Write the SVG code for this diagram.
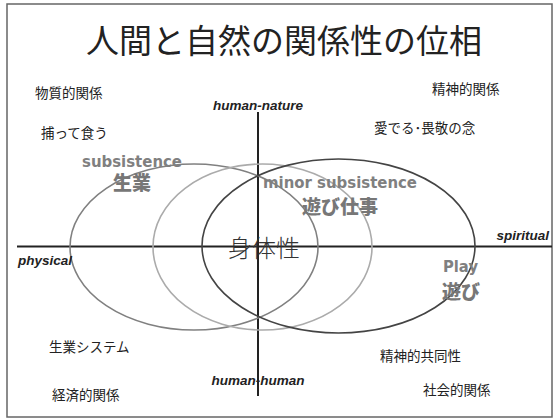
<svg xmlns="http://www.w3.org/2000/svg" width="558" height="420" viewBox="0 0 558 420">
<style>
.jp{font-family:"Noto Sans CJK JP","Noto Sans CJK SC",sans-serif;font-size:13.5px;fill:#222}
.ax{font-family:"Liberation Sans",Arial,sans-serif;font-size:13.5px;font-weight:bold;font-style:italic;fill:#222}
.en{font-family:"DejaVu Sans","Liberation Sans",sans-serif;font-size:15px;font-weight:bold;fill:#808080}
.big{font-family:"Noto Sans CJK JP","Noto Sans CJK SC",sans-serif;font-size:19px;font-weight:900;fill:#777}
.axis{stroke:#222;stroke-width:2;fill:none}
.el{fill:none;stroke-width:1.6}
</style>
<rect x="7" y="4" width="545" height="413" fill="#fff" stroke="#666" stroke-width="1.5"/>
<g id="title"><text x="284" y="53" text-anchor="middle" style="font-family:'Noto Sans CJK JP','Noto Sans CJK SC',sans-serif;font-size:33px;fill:#222">人間と自然の関係性の位相</text></g>
<g id="connectors">
<line class="axis" x1="17" y1="246.5" x2="552" y2="246.5"/>
<line class="axis" x1="258" y1="112" x2="258" y2="396"/>
</g>
<g id="subsistence">
<ellipse class="el" cx="194" cy="247" rx="124" ry="83" stroke="#808080"/>
<text class="en" x="82" y="166.5" textLength="100" lengthAdjust="spacingAndGlyphs">subsistence</text>
<text class="big" x="113" y="190">生業</text>
</g>
<g id="body">
<ellipse class="el" cx="262.5" cy="247" rx="109.5" ry="83" stroke="#ababab"/>
</g>
<g id="play">
<ellipse class="el" cx="338.5" cy="246" rx="136.5" ry="87" stroke="#444"/>
<text class="en" x="443" y="272" textLength="35" lengthAdjust="spacingAndGlyphs">Play</text>
<text class="big" x="442" y="299">遊び</text>
</g>
<g id="minor">
<text class="en" x="263" y="187.5" textLength="154" lengthAdjust="spacingAndGlyphs">minor subsistence</text>
<text class="big" x="302" y="214">遊び仕事</text>
</g>
<g id="shintaisei"><text x="228" y="256.5" style="font-family:'Noto Sans CJK JP','Noto Sans CJK SC',sans-serif;font-size:24px;font-weight:300;fill:#333">身体性</text></g>
<g id="axis-labels">
<text class="ax" x="258" y="110" text-anchor="middle">human-nature</text>
<text class="ax" x="258" y="385" text-anchor="middle">human-human</text>
<text class="ax" x="549" y="240" text-anchor="end">spiritual</text>
<text class="ax" x="18" y="265">physical</text>
</g>
<g id="quadrant-labels">
<text class="jp" x="35" y="98">物質的関係</text>
<text class="jp" x="41" y="138">捕って食う</text>
<text class="jp" x="432" y="94">精神的関係</text>
<text class="jp" x="374" y="133">愛でる･畏敬の念</text>
<text class="jp" x="49" y="352">生業システム</text>
<text class="jp" x="52" y="400">経済的関係</text>
<text class="jp" x="380" y="361">精神的共同性</text>
<text class="jp" x="423" y="395">社会的関係</text>
</g>
</svg>
